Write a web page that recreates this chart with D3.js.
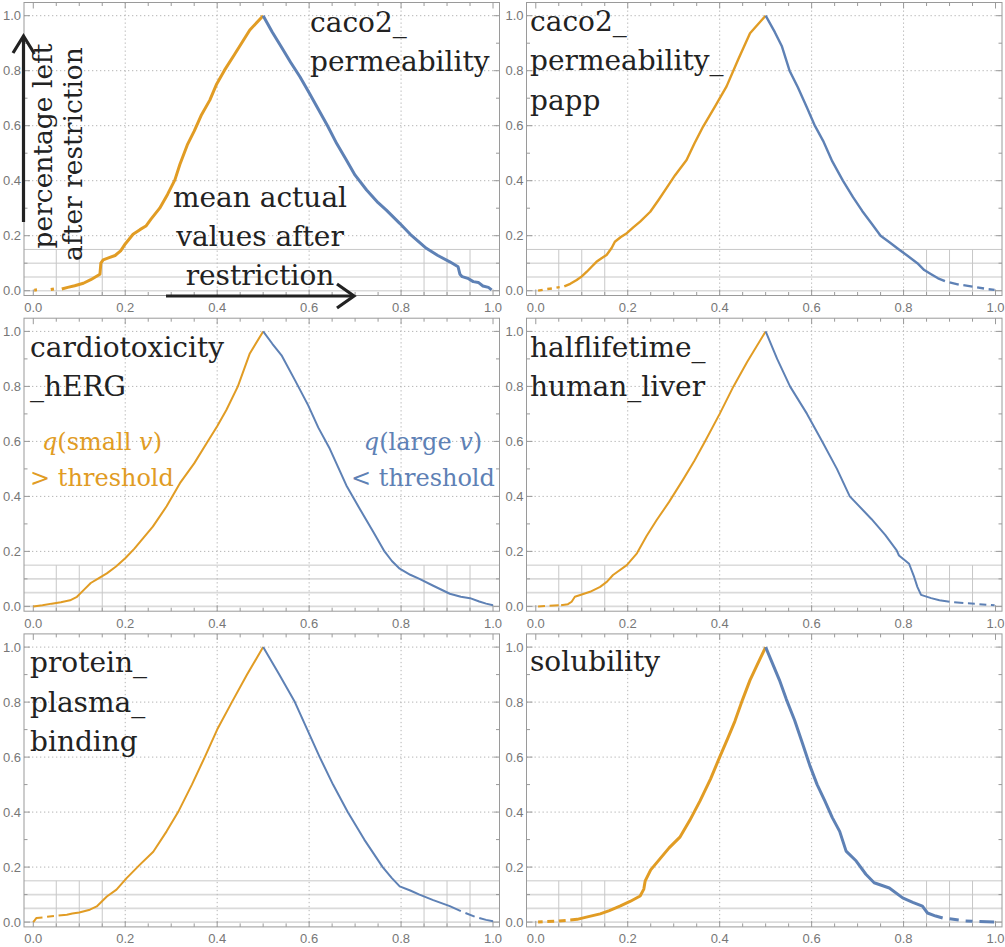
<!DOCTYPE html>
<html>
<head>
<meta charset="utf-8">
<script src="https://cdn.jsdelivr.net/npm/d3@7"></script>
<style>
	body { margin: 0; background: #fff; }
	svg { display: block; }
	.tick-label { font-family: "Liberation Sans", Arial, sans-serif; font-size: 13px; fill: #777; }
	.title { font-family: "DejaVu Serif", serif; font-size: 28px; fill: #222; }
	.note { font-family: "DejaVu Serif", serif; font-size: 24px; }
</style>
</head>
<body>
<div id="chart"></div>
<script>
///////////////////////////////////////////////////////////////////////////////
//// Data /////////////////////////////////////////////////////////////////////
///////////////////////////////////////////////////////////////////////////////
// [mean actual value, fraction left]; null breaks the line
const caco2Small = [[0.002,0.002],[0.008,0.003],null,[0.038,0.004],[0.045,0.006],null,[0.062,0.006],[0.075,0.012],[0.09,0.018],[0.109,0.027],[0.125,0.04],[0.145,0.06],[0.147,0.1],[0.152,0.112],[0.165,0.12],[0.178,0.128],[0.19,0.145],[0.2,0.17],[0.217,0.205],[0.232,0.222],[0.245,0.235],[0.256,0.26],[0.275,0.3],[0.292,0.35],[0.308,0.403],[0.319,0.46],[0.335,0.53],[0.35,0.58],[0.366,0.64],[0.384,0.693],[0.399,0.752],[0.416,0.802],[0.438,0.86],[0.455,0.905],[0.471,0.948],[0.5,1]];
const caco2Large = [[0.5,1],[0.52,0.94],[0.54,0.885],[0.56,0.83],[0.58,0.778],[0.6,0.72],[0.62,0.66],[0.64,0.6],[0.66,0.535],[0.681,0.475],[0.7,0.42],[0.725,0.366],[0.75,0.32],[0.768,0.293],[0.797,0.245],[0.82,0.205],[0.855,0.154],[0.88,0.128],[0.906,0.105],[0.924,0.087],[0.928,0.06],[0.933,0.051],[0.945,0.045],[0.957,0.033],[0.968,0.03],[0.978,0.017],[0.99,0.012],[0.997,0.003]];

const pappSmall = [[0.005,0.0],[0.015,0.003],null,[0.025,0.006],[0.035,0.008],null,[0.045,0.011],[0.052,0.013],null,[0.062,0.016],[0.075,0.025],[0.089,0.039],[0.1,0.052],[0.111,0.069],[0.122,0.088],[0.132,0.105],[0.143,0.118],[0.154,0.13],[0.165,0.155],[0.172,0.178],[0.185,0.195],[0.198,0.209],[0.212,0.23],[0.227,0.251],[0.249,0.287],[0.267,0.33],[0.285,0.375],[0.303,0.42],[0.328,0.475],[0.345,0.535],[0.364,0.597],[0.39,0.67],[0.415,0.743],[0.44,0.84],[0.466,0.936],[0.5,1]];
const pappLarge = [[0.5,1],[0.52,0.94],[0.535,0.89],[0.552,0.8],[0.57,0.74],[0.59,0.665],[0.607,0.6],[0.625,0.545],[0.645,0.47],[0.668,0.4],[0.69,0.34],[0.71,0.29],[0.73,0.245],[0.75,0.2],[0.77,0.175],[0.79,0.15],[0.81,0.125],[0.83,0.1],[0.845,0.075],[0.86,0.06],[0.875,0.045],[0.89,0.035],null,[0.9,0.03],[0.92,0.022],null,[0.93,0.02],[0.95,0.015],null,[0.96,0.012],[0.975,0.008],null,[0.985,0.005],[0.998,0.003]];

const hergSmall = [[0.0,0.0],[0.02,0.004],[0.04,0.01],[0.06,0.015],[0.08,0.022],[0.095,0.035],[0.11,0.06],[0.125,0.085],[0.14,0.1],[0.16,0.12],[0.18,0.145],[0.2,0.175],[0.22,0.21],[0.24,0.25],[0.26,0.29],[0.29,0.364],[0.319,0.448],[0.35,0.52],[0.377,0.593],[0.4,0.655],[0.42,0.714],[0.445,0.8],[0.471,0.92],[0.5,1]];
const hergLarge = [[0.5,1],[0.52,0.955],[0.54,0.913],[0.57,0.82],[0.598,0.731],[0.62,0.65],[0.645,0.573],[0.681,0.44],[0.71,0.355],[0.74,0.27],[0.764,0.2],[0.78,0.165],[0.797,0.137],[0.82,0.115],[0.84,0.1],[0.87,0.075],[0.906,0.046],[0.93,0.035],[0.95,0.03],[0.97,0.018],[0.985,0.01],[1.0,0.004]];

const liverSmall = [[0.005,0.0],[0.02,0.001],null,[0.03,0.002],[0.05,0.004],null,[0.055,0.004],[0.07,0.008],[0.078,0.017],[0.085,0.035],[0.1,0.043],[0.118,0.053],[0.14,0.071],[0.155,0.09],[0.168,0.114],[0.198,0.15],[0.22,0.193],[0.241,0.256],[0.263,0.314],[0.29,0.38],[0.32,0.46],[0.345,0.53],[0.368,0.6],[0.4,0.7],[0.43,0.8],[0.46,0.89],[0.5,1]];
const liverLarge = [[0.5,1],[0.525,0.9],[0.553,0.8],[0.59,0.7],[0.623,0.6],[0.655,0.5],[0.683,0.4],[0.73,0.318],[0.76,0.26],[0.785,0.204],[0.79,0.185],[0.812,0.155],[0.823,0.107],[0.83,0.071],[0.838,0.042],[0.86,0.03],[0.878,0.022],[0.9,0.017],null,[0.91,0.015],[0.93,0.012],null,[0.94,0.011],[0.955,0.01],null,[0.965,0.008],[0.98,0.006],null,[0.99,0.005],[0.998,0.004]];

const ppbSmall = [[0.0,0.0],[0.007,0.015],[0.02,0.017],null,[0.03,0.019],[0.045,0.022],null,[0.055,0.024],[0.073,0.027],[0.085,0.031],[0.1,0.035],[0.123,0.045],[0.138,0.057],[0.16,0.093],[0.181,0.118],[0.203,0.16],[0.232,0.209],[0.261,0.256],[0.29,0.33],[0.315,0.4],[0.345,0.5],[0.373,0.6],[0.4,0.7],[0.432,0.8],[0.465,0.9],[0.5,1]];
const ppbLarge = [[0.5,1],[0.535,0.9],[0.569,0.8],[0.596,0.7],[0.623,0.6],[0.652,0.5],[0.684,0.4],[0.72,0.3],[0.76,0.2],[0.78,0.16],[0.797,0.13],[0.82,0.115],[0.84,0.1],[0.87,0.08],[0.906,0.058],[0.93,0.04],null,[0.94,0.033],[0.96,0.02],null,[0.97,0.015],[0.985,0.008],[1.0,0.003]];

const solubilitySmall = [[0.005,0.0],[0.015,0.001],null,[0.025,0.002],[0.04,0.003],null,[0.05,0.004],[0.065,0.006],null,[0.075,0.008],[0.09,0.01],[0.11,0.018],[0.14,0.03],[0.16,0.042],[0.183,0.058],[0.205,0.075],[0.227,0.095],[0.235,0.12],[0.238,0.15],[0.25,0.19],[0.27,0.23],[0.29,0.27],[0.314,0.31],[0.335,0.37],[0.357,0.44],[0.38,0.52],[0.4,0.6],[0.418,0.67],[0.433,0.73],[0.45,0.81],[0.466,0.88],[0.48,0.93],[0.5,1]];
const solubilityLarge = [[0.5,1],[0.515,0.94],[0.53,0.88],[0.545,0.81],[0.563,0.734],[0.58,0.65],[0.596,0.57],[0.612,0.5],[0.629,0.44],[0.645,0.38],[0.661,0.33],[0.675,0.258],[0.697,0.222],[0.718,0.174],[0.736,0.143],[0.769,0.124],[0.798,0.088],[0.82,0.072],[0.841,0.058],[0.852,0.033],[0.87,0.022],[0.885,0.015],null,[0.9,0.012],[0.92,0.008],null,[0.935,0.004],[0.95,0.003],null,[0.965,0.002],[0.997,0.0]];

const panelTitles = [
	["caco2_", "permeability"],
	["caco2_", "permeability_", "papp"],
	["cardiotoxicity", "_hERG"],
	["halflifetime_", "human_liver"],
	["protein_", "plasma_", "binding"],
	["solubility"]
];
const smallSeries = [caco2Small, pappSmall, hergSmall, liverSmall, ppbSmall, solubilitySmall];
const largeSeries = [caco2Large, pappLarge, hergLarge, liverLarge, ppbLarge, solubilityLarge];

const xMajorTicks = [0, 0.2, 0.4, 0.6, 0.8, 1.0];
const yMajorTicks = [0, 0.2, 0.4, 0.6, 0.8, 1.0];
const fineLevels = [0.05, 0.1, 0.15];
const fineXLeft = [0.05, 0.1, 0.15];
const fineXRight = [0.85, 0.9, 0.95];

///////////////////////////////////////////////////////////////////////////////
//// Set Up ///////////////////////////////////////////////////////////////////
///////////////////////////////////////////////////////////////////////////////
const width = 1005, height = 947;
const panelW = 502.5, panelH = 315.7;
const orange = "#e19c24", blue = "#5e81b5";

// title position and line width per panel (panel coordinates)
const layout = [
	{tx: 310, ty: 32, lw: 3},
	{tx: 27.5, ty: 31, lw: 2.4},
	{tx: 30, ty: 41, lw: 2},
	{tx: 27.5, ty: 41, lw: 2},
	{tx: 30, ty: 41, lw: 2},
	{tx: 27.5, ty: 40, lw: 3}
];

const x = d3.scaleLinear()
		.domain([-0.0202, 1.0141])
		.range([24, 499.5]);

const y = d3.scaleLinear()
		.domain([-0.0175, 1.048])
		.range([295.5, 2.5]);

const line = d3.line()
		.defined(d => d !== null)
		.x(d => x(d[0]))
		.y(d => y(d[1]));

const svg = d3.select("#chart")
	.append("svg")
		.attr("width", width)
		.attr("height", height);

///////////////////////////////////////////////////////////////////////////////
//// Panels ///////////////////////////////////////////////////////////////////
///////////////////////////////////////////////////////////////////////////////
panelTitles.forEach((title, i) => {
	const g = svg.append("g")
		.attr("transform", `translate(${(i % 2) * panelW}, ${Math.floor(i / 2) * panelH})`);

	// fine solid grid near zero
	g.selectAll(".fine-h")
		.data([0].concat(fineLevels))
		.enter()
		.append("line")
			.attr("x1", x.range()[0])
			.attr("x2", x.range()[1])
			.attr("y1", d => y(d))
			.attr("y2", d => y(d))
			.attr("stroke", d => d === 0.15 ? "#c8c8c8" : "#dadada")
			.attr("stroke-width", d => d === 0.15 ? 1 : 1.6);

	g.selectAll(".fine-v")
		.data(fineXLeft.concat(fineXRight))
		.enter()
		.append("line")
			.attr("x1", d => x(d))
			.attr("x2", d => x(d))
			.attr("y1", y(0.15))
			.attr("y2", y.range()[0])
			.attr("stroke", "#c8c8c8");

	// dotted major grid
	g.selectAll(".grid-v")
		.data(xMajorTicks.slice(1, -1))
		.enter()
		.append("line")
			.attr("x1", d => x(d))
			.attr("x2", d => x(d))
			.attr("y1", y.range()[1])
			.attr("y2", y.range()[0])
			.attr("stroke", "#b4b4b4")
			.attr("stroke-dasharray", "1.3,2.7");

	g.selectAll(".grid-h")
		.data(yMajorTicks.slice(1))
		.enter()
		.append("line")
			.attr("x1", x.range()[0])
			.attr("x2", x.range()[1])
			.attr("y1", d => y(d))
			.attr("y2", d => y(d))
			.attr("stroke", "#b4b4b4")
			.attr("stroke-dasharray", "1.3,2.7");

	// frame with inward ticks
	frame(g);

	// curves
	g.append("path")
		.datum(smallSeries[i])
		.attr("fill", "none")
		.attr("stroke", orange)
		.attr("stroke-width", layout[i].lw)
		.attr("stroke-linejoin", "round")
		.attr("d", line);

	g.append("path")
		.datum(largeSeries[i])
		.attr("fill", "none")
		.attr("stroke", blue)
		.attr("stroke-width", layout[i].lw)
		.attr("stroke-linejoin", "round")
		.attr("d", line);

	// title
	g.append("text")
		.attr("class", "title")
		.selectAll("tspan")
		.data(title)
		.enter()
		.append("tspan")
			.attr("x", layout[i].tx)
			.attr("y", (d, j) => layout[i].ty + j * 39.3)
			.text(d => d);

	if (i === 0) axisNotes(g);
	if (i === 2) thresholdNotes(g);
});

///////////////////////////////////////////////////////////////////////////////
//// Helper Functions /////////////////////////////////////////////////////////
///////////////////////////////////////////////////////////////////////////////

function frame(g) {
	const [l, r] = x.range(), [b, t] = y.range();
	g.append("rect")
		.attr("x", l)
		.attr("y", t)
		.attr("width", r - l)
		.attr("height", b - t)
		.attr("fill", "none")
		.attr("stroke", "#9a9a9a");

	const xTicks = d3.range(0, 21).map(k => k * 0.05);
	const yTicks = d3.range(0, 11).map(k => k * 0.1);
	const isMajor = v => Math.abs(v * 5 - Math.round(v * 5)) < 1e-6;

	xTicks.forEach(v => {
		const len = isMajor(v) ? 6 : 3.5;
		g.append("line").attr("x1", x(v)).attr("x2", x(v)).attr("y1", b).attr("y2", b - len).attr("stroke", "#9a9a9a");
		g.append("line").attr("x1", x(v)).attr("x2", x(v)).attr("y1", t).attr("y2", t + len).attr("stroke", "#9a9a9a");
	});
	yTicks.forEach(v => {
		const len = isMajor(v) ? 6 : 3.5;
		g.append("line").attr("x1", l).attr("x2", l + len).attr("y1", y(v)).attr("y2", y(v)).attr("stroke", "#9a9a9a");
		g.append("line").attr("x1", r).attr("x2", r - len).attr("y1", y(v)).attr("y2", y(v)).attr("stroke", "#9a9a9a");
	});

	g.selectAll(".xl")
		.data(xMajorTicks)
		.enter()
		.append("text")
			.attr("class", "tick-label")
			.attr("x", d => x(d))
			.attr("y", b + 16.5)
			.attr("text-anchor", "middle")
			.text(d => d.toFixed(1));

	g.selectAll(".yl")
		.data(yMajorTicks)
		.enter()
		.append("text")
			.attr("class", "tick-label")
			.attr("x", l - 3)
			.attr("y", d => y(d) + 4.5)
			.attr("text-anchor", "end")
			.text(d => d.toFixed(1));
}

function arrowHead(g, tip, dir) {
	// dir: "up" or "right"
	const pts = dir === "up"
		? [[tip[0] - 10.5, tip[1] + 17], tip, [tip[0] + 10.5, tip[1] + 17]]
		: [[tip[0] - 17, tip[1] - 12], tip, [tip[0] - 17, tip[1] + 12]];
	g.append("path")
		.attr("d", d3.line()(pts))
		.attr("fill", "none")
		.attr("stroke", "#222")
		.attr("stroke-width", 3.2);
}

function axisNotes(g) {
	g.append("line")
		.attr("x1", 23.5).attr("x2", 23.5)
		.attr("y1", 222).attr("y2", 37)
		.attr("stroke", "#222")
		.attr("stroke-width", 3.2);
	arrowHead(g, [23.5, 36], "up");

	g.append("line")
		.attr("x1", 166).attr("x2", 353)
		.attr("y1", 296).attr("y2", 296)
		.attr("stroke", "#222")
		.attr("stroke-width", 3.2);
	arrowHead(g, [354, 296], "right");

	g.append("text")
		.attr("class", "title")
		.attr("transform", "translate(52, 146) rotate(-90)")
		.attr("text-anchor", "middle")
		.style("font-size", "26.5px")
		.text("percentage left");

	g.append("text")
		.attr("class", "title")
		.attr("transform", "translate(82, 154) rotate(-90)")
		.attr("text-anchor", "middle")
		.style("font-size", "26.5px")
		.text("after restriction");

	g.append("text")
		.attr("class", "title")
		.attr("text-anchor", "middle")
		.selectAll("tspan")
		.data(["mean actual", "values after", "restriction"])
		.enter()
		.append("tspan")
			.attr("x", 260)
			.attr("y", (d, j) => 206.5 + j * 39.3)
			.text(d => d);
}

function thresholdNotes(g) {
	const notes = [
		{cx: 102, color: orange, word: "small", sign: "> threshold"},
		{cx: 423, color: blue, word: "large", sign: "< threshold"}
	];
	notes.forEach(n => {
		const t = g.append("text")
			.attr("class", "note")
			.attr("x", n.cx)
			.attr("y", 134)
			.attr("text-anchor", "middle")
			.attr("fill", n.color);
		t.append("tspan").style("font-style", "italic").text("q");
		t.append("tspan").text(`(${n.word} `);
		t.append("tspan").style("font-style", "italic").text("v");
		t.append("tspan").text(")");

		g.append("text")
			.attr("class", "note")
			.attr("x", n.cx)
			.attr("y", 170)
			.attr("text-anchor", "middle")
			.attr("fill", n.color)
			.text(n.sign);
	});
}
</script>
</body>
</html>
